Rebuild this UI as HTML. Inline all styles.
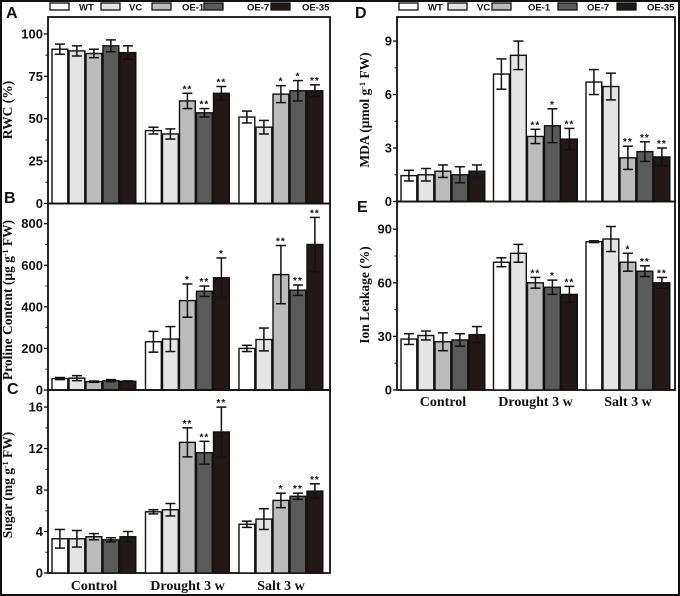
<!DOCTYPE html>
<html><head><meta charset="utf-8">
<style>
html,body{margin:0;padding:0;background:#fff;}
svg{display:block;}
</style></head>
<body>
<svg id="c" width="680" height="596" viewBox="0 0 680 596" xmlns="http://www.w3.org/2000/svg"></svg>
<script>
const groups = ["Control","Drought 3 w","Salt 3 w"];
const seriesNames = ["WT","VC","OE-1","OE-7","OE-35"];
const seriesColors = ["#ffffff","#e4e4e4","#bcbcbc","#5a5a5a","#221816"];
// Panel A RWC
const rwcVals = [[91,90,88.5,93,89],[43,41,60.5,53.5,65],[51,45,64.5,66.5,66.5]];
const rwcErr  = [[3,3,2.5,3.5,4],[2,3,4.5,2.5,4],[3.5,4,5,6,3.5]];
const rwcStars = [["","","","",""],["","","**","**","**"],["","","*","*","**"]];
const rwcTicks = [0,25,50,75,100];
// Panel B Proline
const proVals = [[55,57,40,45,42],[232,245,430,475,540],[200,243,555,480,700]];
const proErr  = [[5,12,3,5,2],[50,60,80,25,95],[15,55,140,25,130]];
const proStars = [["","","","",""],["","","*","**","*"],["","","**","**","**"]];
const proTicks = [0,200,400,600,800];
// Panel C Sugar
const sugVals = [[3.3,3.3,3.5,3.2,3.5],[5.9,6.1,12.6,11.6,13.6],[4.7,5.2,7.0,7.4,7.9]];
const sugErr  = [[0.9,0.8,0.3,0.2,0.5],[0.2,0.6,1.4,1.1,2.4],[0.3,1.0,0.7,0.3,0.7]];
const sugStars = [["","","","",""],["","","**","**","**"],["","","*","**","**"]];
const sugTicks = [0,4,8,12,16];
// Panel D MDA
const mdaVals = [[1.45,1.5,1.7,1.5,1.7],[7.15,8.2,3.65,4.25,3.5],[6.7,6.45,2.45,2.8,2.5]];
const mdaErr  = [[0.3,0.35,0.35,0.45,0.35],[0.85,0.8,0.4,0.95,0.6],[0.7,0.75,0.65,0.55,0.5]];
const mdaStars = [["","","","",""],["","","**","*","**"],["","","**","**","**"]];
const mdaTicks = [0,3,6,9];
// Panel E Ion leakage
const ionVals = [[28.5,30.5,27,28,31],[71.5,76.5,60,57.5,53.5],[83,84.5,71.5,66.5,60]];
const ionErr  = [[3,2.5,5,3.5,4.5],[2.5,5,3,4,4.5],[0.5,7,5,3,3]];
const ionStars = [["","","","",""],["","","**","*","**"],["","","*","**","**"]];
const ionTicks = [0,30,60,90];

const NS="http://www.w3.org/2000/svg";
const svg=document.getElementById('c');
function mk(tag,attrs,parent){const e=document.createElementNS(NS,tag);for(const k in attrs)e.setAttribute(k,attrs[k]);(parent||svg).appendChild(e);return e;}

const fr=mk('rect',{x:1,y:1,width:678,height:594,fill:'none',stroke:'#111','stroke-width':2});



function panel(o){
  const g=mk('g',{});
  
  
  const y=v=>o.bottom-(v/o.max)*(o.bottom-o.top);
  const box=mk('rect',{x:o.left,y:o.top,width:o.right-o.left,height:o.bottom-o.top,fill:'none',stroke:'#111','stroke-width':1.8},g);
  
  
  o.ticks.forEach((t,i)=>{
    const ty=y(t);
    mk('line',{x1:o.left-4,x2:o.left,y1:ty,y2:ty,stroke:'#111','stroke-width':1.3},g);
    const tx=mk('text',{x:o.left-5,y:ty+4.5,'text-anchor':'end','font-family':'Liberation Sans, sans-serif','font-weight':'bold','font-size':13,fill:'#111'},g);
    tx.textContent=t;
    
    
    if(i<o.ticks.length-1){
      const my=y((t+o.ticks[i+1])/2);
      mk('line',{x1:o.left-2.5,x2:o.left,y1:my,y2:my,stroke:'#111','stroke-width':1},g);
    }
  });
  const bw=17;
  groups.forEach((gn,gi)=>{
    const gx=o.left+o.gstart+gi*o.pitch;
    o.vals[gi].forEach((v,si)=>{
      const x=gx+si*bw;
      const b=mk('rect',{x:x,y:y(v),width:bw-1.2,height:o.bottom-y(v),fill:seriesColors[si],stroke:'#111','stroke-width':1.4},g);
      
      
      const cx=x+(bw-1.2)/2, e=o.err[gi][si];
      const y1=y(v+e), y2=y(v-e);
      mk('line',{x1:cx,x2:cx,y1:y1,y2:y2,stroke:'#111','stroke-width':1.5},g);
      mk('line',{x1:cx-5,x2:cx+5,y1:y1,y2:y1,stroke:'#111','stroke-width':1.5},g);
      mk('line',{x1:cx-5,x2:cx+5,y1:y2,y2:y2,stroke:'#111','stroke-width':1.5},g);
      const s=o.stars[gi][si];
      if(s){
        const st=mk('text',{x:cx,y:y1-1,'text-anchor':'middle','font-family':'Liberation Sans, sans-serif','font-weight':'bold','font-size':10,fill:'#111','letter-spacing':'1'},g);
        st.textContent=s;
        
        
      }
    });
    if(o.xlab){
      const xl=mk('text',{x:gx+42,y:o.xlab,'text-anchor':'middle','font-family':'Liberation Serif, serif','font-weight':'bold','font-size':14,fill:'#111'},g);
      xl.textContent=gn;
      
      
    }
  });
  const yt=mk('text',{x:0,y:0,transform:`translate(${o.ytx},${o.yty}) rotate(-90)`,'text-anchor':'middle','font-family':'Liberation Serif, serif','font-weight':'bold','font-size':13.5,fill:'#111'},g);
  yt.innerHTML=o.ytitle;
  
  
  const pl=mk('text',{x:o.lx,y:o.ly,'font-family':'Liberation Sans, sans-serif','font-weight':'bold','font-size':16,fill:'#111'},g);
  pl.textContent=o.letter;
  
  
}
const sup='<tspan baseline-shift="super" font-size="8">-1</tspan>';
panel({name:'panel-a-rwc',letter:'A',lx:6,ly:18,left:48,right:330,top:17,bottom:203.5,max:110,ticks:rwcTicks,vals:rwcVals,err:rwcErr,stars:rwcStars,gstart:4,pitch:93.5,ytitle:'RWC (%)',ytx:12,yty:110});
panel({name:'panel-b-proline',letter:'B',lx:4,ly:203,left:48,right:330,top:203.5,bottom:390,max:897,ticks:proTicks,vals:proVals,err:proErr,stars:proStars,gstart:4,pitch:93.5,ytitle:'Proline Content (μg g'+sup+' FW)',ytx:12,yty:300});
panel({name:'panel-c-sugar',letter:'C',lx:7,ly:394,left:48,right:330,top:390,bottom:573,max:17.65,ticks:sugTicks,vals:sugVals,err:sugErr,stars:sugStars,gstart:4,pitch:93.5,ytitle:'Sugar (mg g'+sup+' FW)',ytx:12,yty:485,xlab:590});
panel({name:'panel-d-mda',letter:'D',lx:355,ly:18,left:397,right:675,top:17,bottom:201.5,max:10.35,ticks:mdaTicks,vals:mdaVals,err:mdaErr,stars:mdaStars,gstart:4,pitch:92.5,ytitle:'MDA (μmol g'+sup+' FW)',ytx:369,yty:110});
panel({name:'panel-e-ion-leakage',letter:'E',lx:357,ly:212,left:397,right:675,top:201.5,bottom:390,max:105.5,ticks:ionTicks,vals:ionVals,err:ionErr,stars:ionStars,gstart:4,pitch:92.5,ytitle:'Ion Leakage (%)',ytx:369,yty:295,xlab:406});

function legend(boxX,labX,name){
  const g=mk('g',{});
  
  
  seriesNames.forEach((s,i)=>{
    const r=mk('rect',{x:boxX[i],y:3,width:19,height:7,fill:seriesColors[i],stroke:'#111','stroke-width':1.3},g);
    
    
    const t=mk('text',{x:labX[i],y:10.5,'font-family':'Liberation Sans, sans-serif','font-weight':'bold','font-size':9.5,fill:'#111'},g);
    t.textContent=s;
    
    
  });
}
legend([50,101,152,204,271],[79,129,182,247,302],'legend-left');
legend([399,448,492,558,617],[428,477,528,587,647],'legend-right');
</script>
</body></html>
